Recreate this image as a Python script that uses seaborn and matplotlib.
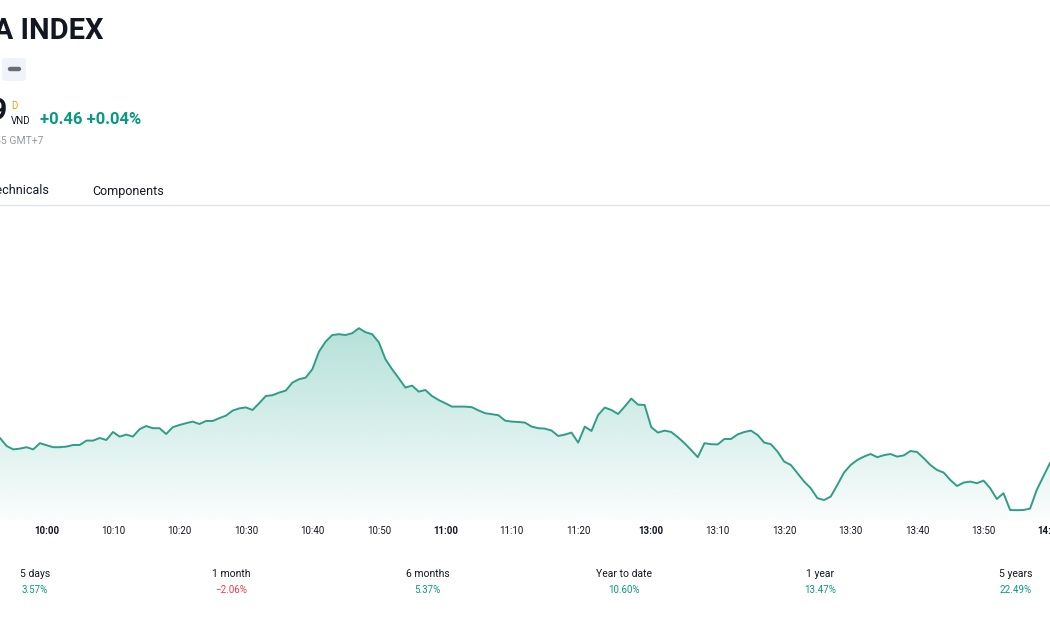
import numpy as np
import pandas as pd
import seaborn as sns
import matplotlib.pyplot as plt
from matplotlib.patches import FancyBboxPatch
from matplotlib.colors import to_rgb

# intraday index values, one per minute (lunch break collapsed)
minute_idx = list(range(159))
price = [
    1151.10, 1150.70, 1150.53, 1150.57, 1150.64, 1150.53, 1150.84, 1150.74, 1150.64, 1150.64,
    1150.67, 1150.75, 1150.75, 1150.97, 1150.97, 1151.10, 1151.00, 1151.40, 1151.17, 1151.27,
    1151.17, 1151.54, 1151.70, 1151.59, 1151.59, 1151.30, 1151.64, 1151.75, 1151.84, 1151.92,
    1151.80, 1151.95, 1151.95, 1152.09, 1152.22, 1152.47, 1152.58, 1152.63, 1152.50, 1152.84,
    1153.20, 1153.24, 1153.37, 1153.47, 1153.87, 1154.04, 1154.12, 1154.54, 1155.42, 1155.92,
    1156.25, 1156.29, 1156.25, 1156.34, 1156.59, 1156.39, 1156.29, 1155.89, 1155.04, 1154.54,
    1154.09, 1153.62, 1153.72, 1153.42, 1153.50, 1153.20, 1153.00, 1152.84, 1152.67, 1152.67,
    1152.67, 1152.64, 1152.48, 1152.34, 1152.29, 1152.24, 1151.97, 1151.92, 1151.90, 1151.87,
    1151.67, 1151.59, 1151.57, 1151.47, 1151.20, 1151.27, 1151.37, 1150.87, 1151.67, 1151.45,
    1152.25, 1152.62, 1152.50, 1152.30, 1152.67, 1153.07, 1152.77, 1152.75, 1151.64, 1151.37,
    1151.47, 1151.40, 1151.14, 1150.84, 1150.50, 1150.14, 1150.84, 1150.79, 1150.78, 1151.05,
    1151.05, 1151.28, 1151.40, 1151.47, 1151.25, 1150.87, 1150.79, 1150.42, 1149.92, 1149.75,
    1149.34, 1148.92, 1148.59, 1148.09, 1148.00, 1148.17, 1148.75, 1149.37, 1149.75, 1150.00,
    1150.17, 1150.30, 1150.14, 1150.24, 1150.30, 1150.17, 1150.23, 1150.45, 1150.40, 1150.09,
    1149.75, 1149.50, 1149.37, 1149.00, 1148.70, 1148.87, 1148.92, 1148.84, 1148.97, 1148.59,
    1148.05, 1148.34, 1147.50, 1147.49, 1147.50, 1147.57, 1148.50, 1149.17, 1149.85,
]
tick_pos = [7, 17, 27, 37, 47, 57, 67, 77, 87, 98, 108, 118, 128, 138, 148, 158]
tick_labels = ["10:00", "10:10", "10:20", "10:30", "10:40", "10:50", "11:00", "11:10",
               "11:20", "13:00", "13:10", "13:20", "13:30", "13:40", "13:50", "14:00"]
bold_ticks = ["10:00", "11:00", "13:00", "14:00"]
periods = ["5 days", "1 month", "6 months", "Year to date", "1 year", "5 years"]
period_changes = [3.57, -2.06, 5.37, 10.60, 13.47, 22.49]

LINE = "#2E9E88"
UP = "#089981"
DOWN = "#F23645"
DARK = "#131722"
GREY = "#9598A1"
W, H = 1050, 630
Y_LO, Y_HI = 1147.0, 1162.25

sns.set_theme(style="white")
plt.rcParams['font.family'] = ['Roboto', 'DejaVu Sans']

fig = plt.figure(figsize=(10.5, 6.3), dpi=100)
fig.patch.set_facecolor("white")


def px(x, y):
    return x / W, 1 - y / H


ax = fig.add_axes([0, 1 - 520 / H, 1, 305 / H])
df = pd.DataFrame({"idx": minute_idx, "price": price})
sns.lineplot(data=df, x="idx", y="price", ax=ax, color=LINE, linewidth=1.4, zorder=3)

# gradient area under the line
poly = ax.fill_between(df["idx"], df["price"], Y_LO, color="none", linewidth=0)
grad = np.zeros((256, 1, 4))
grad[..., :3] = to_rgb(UP)
grad[..., 3] = np.linspace(0.30, 0.02, 256).reshape(-1, 1)
im = ax.imshow(grad, extent=[0, 158, Y_LO, max(price)], aspect="auto",
               origin="upper", zorder=1)
im.set_clip_path(poly.get_paths()[0], ax.transData)

ax.set_xlim(0, 157.5)
ax.set_ylim(Y_LO, Y_HI)
ax.set_xticks(tick_pos)
ax.set_xticklabels(tick_labels)
for lab in ax.get_xticklabels():
    lab.set_fontsize(7)
    lab.set_color(DARK)
    if lab.get_text() in bold_ticks:
        lab.set_fontweight("bold")
ax.tick_params(axis="x", length=0, pad=4)
ax.set_yticks([])
ax.set_xlabel("")
ax.set_ylabel("")
sns.despine(ax=ax, left=True, bottom=True)
ax.patch.set_alpha(0)

# header (cropped at the left edge, as in the screenshot)
fig.text(*px(103, 31), "VNA INDEX", ha="right", va="center", fontsize=21,
         fontweight="bold", color=DARK)
fig.patches.append(FancyBboxPatch(px(2, 81), 24 / W, 23 / H,
                                  boxstyle="round,pad=0,rounding_size=0.004",
                                  transform=fig.transFigure, facecolor="#F0F3FA",
                                  edgecolor="none"))
fig.add_artist(plt.Line2D([10 / W, 19 / W], [1 - 69 / H, 1 - 69 / H],
                          transform=fig.transFigure, color="#6A6D78",
                          linewidth=3.2, solid_capstyle="round"))
fig.text(*px(8, 111), "1,149.89", ha="right", va="center", fontsize=22,
         fontweight="bold", color=DARK)
fig.text(*px(11, 106), "D", ha="left", va="center", fontsize=7, color="#FF9800")
fig.text(*px(11, 121), "VND", ha="left", va="center", fontsize=7, color=DARK)
fig.text(*px(40, 120), "+0.46 +0.04%", ha="left", va="center", fontsize=12,
         fontweight="bold", color=UP)
fig.text(*px(43, 141), "As of today at 14:29:55 GMT+7", ha="right", va="center",
         fontsize=7.5, color=GREY)
fig.text(*px(50, 191), "Technicals", ha="right", va="center", fontsize=9, color=DARK)
fig.text(*px(128, 191), "Components", ha="center", va="center", fontsize=9, color=DARK)
fig.add_artist(plt.Line2D([0, 1], [1 - 205.5 / H, 1 - 205.5 / H],
                          transform=fig.transFigure, color="#E0E3EB", linewidth=1))

# performance row
for i, (name, chg) in enumerate(zip(periods, period_changes)):
    cx = 35 + i * 196.2
    fig.text(*px(cx, 574), name, ha="center", va="center", fontsize=7.5, color=DARK)
    fig.text(*px(cx, 590), f"{chg:.2f}%".replace("-", "\u2212"), ha="center",
             va="center", fontsize=7, color=UP if chg >= 0 else DOWN)

fig.savefig("out.png", dpi=100, facecolor="white")
